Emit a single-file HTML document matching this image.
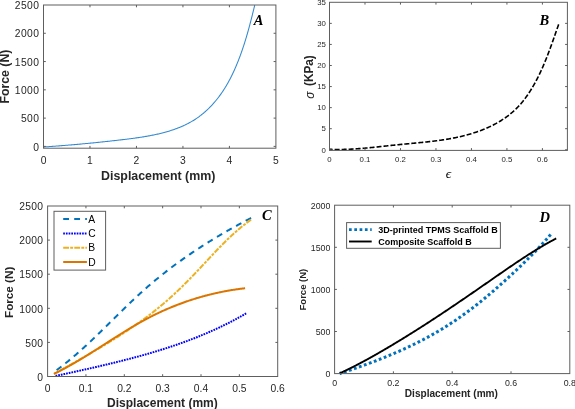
<!DOCTYPE html>
<html><head><meta charset="utf-8"><style>
html,body{margin:0;padding:0;background:#fff;}
body{width:575px;height:409px;overflow:hidden;}
svg{display:block;font-family:"Liberation Sans", sans-serif;will-change:transform;}
</style></head><body>
<svg width="575" height="409" viewBox="0 0 575 409">
<rect width="575" height="409" fill="#fff"/>
<polyline points="43.42,146.98 44.41,146.92 45.39,146.85 46.38,146.78 47.36,146.71 48.34,146.65 49.32,146.58 50.30,146.51 51.28,146.44 52.25,146.37 53.22,146.30 54.20,146.23 55.17,146.15 56.14,146.08 57.11,146.01 58.07,145.94 59.04,145.86 60.00,145.79 60.97,145.71 61.93,145.64 62.89,145.56 63.85,145.49 64.81,145.41 65.77,145.33 66.73,145.26 67.68,145.18 68.64,145.10 69.59,145.02 70.55,144.94 71.50,144.86 72.45,144.78 73.41,144.70 74.36,144.61 75.31,144.53 76.26,144.45 77.21,144.37 78.16,144.28 79.10,144.20 80.05,144.11 81.00,144.03 81.95,143.94 82.89,143.85 83.84,143.77 84.79,143.68 85.73,143.59 86.68,143.50 87.62,143.41 88.57,143.32 89.51,143.23 90.46,143.14 91.41,143.04 92.35,142.95 93.30,142.86 94.24,142.76 95.19,142.67 96.13,142.57 97.08,142.48 98.02,142.38 98.97,142.28 99.92,142.18 100.86,142.08 101.81,141.99 102.76,141.89 103.71,141.78 104.65,141.68 105.60,141.58 106.55,141.48 107.50,141.38 108.45,141.27 109.40,141.17 110.36,141.06 111.31,140.96 112.26,140.85 113.22,140.74 114.17,140.63 115.13,140.52 116.08,140.41 117.04,140.30 118.00,140.19 118.96,140.08 119.92,139.97 120.88,139.86 121.84,139.74 122.81,139.63 123.77,139.51 124.74,139.40 125.70,139.28 126.67,139.16 127.64,139.04 128.61,138.92 129.57,138.80 130.54,138.67 131.51,138.55 132.48,138.42 133.45,138.29 134.43,138.16 135.40,138.02 136.37,137.89 137.34,137.75 138.31,137.61 139.28,137.46 140.25,137.32 141.22,137.17 142.18,137.02 143.15,136.86 144.12,136.71 145.08,136.55 146.05,136.38 147.02,136.21 147.98,136.04 148.94,135.87 149.90,135.69 150.86,135.51 151.82,135.32 152.78,135.13 153.73,134.94 154.69,134.74 155.64,134.54 156.59,134.33 157.54,134.12 158.49,133.90 159.43,133.68 160.37,133.46 161.31,133.22 162.25,132.99 163.19,132.75 164.12,132.50 165.05,132.25 165.98,131.99 166.90,131.73 167.83,131.46 168.75,131.18 169.66,130.90 170.58,130.62 171.49,130.32 172.39,130.02 173.30,129.72 174.20,129.41 175.10,129.09 175.99,128.76 176.88,128.43 177.77,128.09 178.65,127.75 179.53,127.39 180.40,127.03 181.28,126.66 182.14,126.29 183.00,125.91 183.86,125.52 184.72,125.12 185.57,124.71 186.41,124.30 187.25,123.88 188.09,123.45 188.92,123.01 189.74,122.56 190.57,122.10 191.38,121.64 192.19,121.17 193.00,120.69 193.80,120.20 194.59,119.70 195.38,119.19 196.17,118.67 196.95,118.14 197.72,117.60 198.49,117.06 199.25,116.50 200.01,115.94 200.76,115.37 201.50,114.78 202.24,114.19 202.97,113.59 203.70,112.98 204.42,112.37 205.13,111.74 205.84,111.11 206.55,110.47 207.24,109.82 207.94,109.17 208.62,108.50 209.30,107.83 209.97,107.15 210.64,106.47 211.30,105.77 211.96,105.07 212.61,104.37 213.25,103.66 213.89,102.94 214.52,102.21 215.14,101.48 215.76,100.74 216.37,99.99 216.98,99.24 217.58,98.49 218.17,97.72 218.76,96.96 219.34,96.18 219.91,95.40 220.48,94.62 221.04,93.83 221.60,93.04 222.15,92.24 222.69,91.43 223.23,90.63 223.76,89.81 224.28,89.00 224.80,88.18 225.31,87.35 225.81,86.52 226.31,85.69 226.80,84.85 227.29,84.01 227.77,83.17 228.24,82.32 228.71,81.47 229.17,80.62 229.63,79.76 230.08,78.90 230.53,78.04 230.97,77.17 231.40,76.30 231.83,75.43 232.26,74.56 232.68,73.68 233.09,72.80 233.51,71.92 233.91,71.04 234.31,70.16 234.71,69.27 235.10,68.38 235.49,67.49 235.87,66.60 236.25,65.71 236.63,64.81 237.00,63.92 237.36,63.02 237.73,62.13 238.09,61.23 238.44,60.33 238.79,59.43 239.14,58.52 239.48,57.62 239.82,56.72 240.16,55.81 240.49,54.91 240.82,54.00 241.15,53.09 241.47,52.18 241.79,51.27 242.11,50.36 242.42,49.45 242.73,48.54 243.04,47.63 243.34,46.71 243.64,45.80 243.94,44.88 244.24,43.97 244.53,43.05 244.82,42.13 245.11,41.21 245.39,40.29 245.67,39.38 245.95,38.46 246.23,37.54 246.50,36.61 246.77,35.69 247.04,34.77 247.31,33.85 247.57,32.93 247.83,32.00 248.09,31.08 248.35,30.16 248.61,29.23 248.86,28.31 249.11,27.38 249.36,26.46 249.61,25.53 249.86,24.61 250.10,23.68 250.34,22.75 250.59,21.83 250.83,20.90 251.06,19.98 251.30,19.05 251.54,18.12 251.77,17.20 252.00,16.27 252.23,15.34 252.47,14.42 252.69,13.49 252.92,12.56 253.15,11.64 253.38,10.71 253.60,9.79 253.83,8.86 254.05,7.94 254.27,7.01 254.49,6.09 254.72,5.16" fill="none" stroke="#3088D0" stroke-width="1.05"/>
<rect x="43.5" y="5.0" width="232.40" height="143.20" fill="none" stroke="#5e5e5e" stroke-width="1"/>
<text x="43.50" y="163.70" font-size="10.3" text-anchor="middle" fill="#262626">0</text>
<line x1="89.98" y1="148.2" x2="89.98" y2="145.89999999999998" stroke="#5e5e5e"/>
<line x1="89.98" y1="5.0" x2="89.98" y2="7.3" stroke="#5e5e5e"/>
<text x="89.98" y="163.70" font-size="10.3" text-anchor="middle" fill="#262626">1</text>
<line x1="136.46" y1="148.2" x2="136.46" y2="145.89999999999998" stroke="#5e5e5e"/>
<line x1="136.46" y1="5.0" x2="136.46" y2="7.3" stroke="#5e5e5e"/>
<text x="136.46" y="163.70" font-size="10.3" text-anchor="middle" fill="#262626">2</text>
<line x1="182.94" y1="148.2" x2="182.94" y2="145.89999999999998" stroke="#5e5e5e"/>
<line x1="182.94" y1="5.0" x2="182.94" y2="7.3" stroke="#5e5e5e"/>
<text x="182.94" y="163.70" font-size="10.3" text-anchor="middle" fill="#262626">3</text>
<line x1="229.42" y1="148.2" x2="229.42" y2="145.89999999999998" stroke="#5e5e5e"/>
<line x1="229.42" y1="5.0" x2="229.42" y2="7.3" stroke="#5e5e5e"/>
<text x="229.42" y="163.70" font-size="10.3" text-anchor="middle" fill="#262626">4</text>
<text x="275.90" y="163.70" font-size="10.3" text-anchor="middle" fill="#262626">5</text>
<line x1="43.5" y1="146.39" x2="45.8" y2="146.39" stroke="#5e5e5e"/>
<line x1="275.9" y1="146.39" x2="273.59999999999997" y2="146.39" stroke="#5e5e5e"/>
<text transform="translate(39.30,150.55) scale(1.0,1)" font-size="10.3" text-anchor="end" fill="#262626" letter-spacing="0.4">0</text>
<line x1="43.5" y1="118.11" x2="45.8" y2="118.11" stroke="#5e5e5e"/>
<line x1="275.9" y1="118.11" x2="273.59999999999997" y2="118.11" stroke="#5e5e5e"/>
<text transform="translate(39.30,122.27) scale(1.0,1)" font-size="10.3" text-anchor="end" fill="#262626" letter-spacing="0.4">500</text>
<line x1="43.5" y1="89.83" x2="45.8" y2="89.83" stroke="#5e5e5e"/>
<line x1="275.9" y1="89.83" x2="273.59999999999997" y2="89.83" stroke="#5e5e5e"/>
<text transform="translate(39.30,93.99) scale(1.0,1)" font-size="10.3" text-anchor="end" fill="#262626" letter-spacing="0.4">1000</text>
<line x1="43.5" y1="61.56" x2="45.8" y2="61.56" stroke="#5e5e5e"/>
<line x1="275.9" y1="61.56" x2="273.59999999999997" y2="61.56" stroke="#5e5e5e"/>
<text transform="translate(39.30,65.71) scale(1.0,1)" font-size="10.3" text-anchor="end" fill="#262626" letter-spacing="0.4">1500</text>
<line x1="43.5" y1="33.28" x2="45.8" y2="33.28" stroke="#5e5e5e"/>
<line x1="275.9" y1="33.28" x2="273.59999999999997" y2="33.28" stroke="#5e5e5e"/>
<text transform="translate(39.30,37.43) scale(1.0,1)" font-size="10.3" text-anchor="end" fill="#262626" letter-spacing="0.4">2000</text>
<text transform="translate(39.30,9.16) scale(1.0,1)" font-size="10.3" text-anchor="end" fill="#262626" letter-spacing="0.4">2500</text>
<text x="158.2" y="179.8" font-size="12.4" font-weight="bold" text-anchor="middle" fill="#262626">Displacement (mm)</text>
<text transform="translate(8.6,76.6) rotate(-90)" font-size="12.3" font-weight="bold" text-anchor="middle" fill="#262626">Force (N)</text>
<text x="258.6" y="24.6" font-family='"Liberation Serif", serif' font-size="14.5" font-weight="bold" font-style="italic" text-anchor="middle" fill="#000">A</text>
<polyline points="329.51,149.33 330.50,149.37 331.49,149.40 332.48,149.43 333.46,149.45 334.45,149.47 335.43,149.49 336.41,149.49 337.40,149.50 338.38,149.50 339.36,149.50 340.33,149.49 341.31,149.47 342.29,149.46 343.26,149.44 344.24,149.41 345.21,149.39 346.18,149.36 347.16,149.32 348.13,149.28 349.10,149.24 350.07,149.20 351.04,149.15 352.01,149.10 352.98,149.04 353.94,148.99 354.91,148.93 355.88,148.86 356.84,148.80 357.81,148.73 358.77,148.66 359.74,148.59 360.70,148.51 361.66,148.43 362.63,148.35 363.59,148.27 364.55,148.19 365.51,148.10 366.48,148.02 367.44,147.93 368.40,147.84 369.36,147.74 370.32,147.65 371.28,147.56 372.24,147.46 373.20,147.36 374.17,147.26 375.13,147.17 376.09,147.06 377.05,146.96 378.01,146.86 378.97,146.76 379.93,146.66 380.89,146.55 381.85,146.45 382.81,146.34 383.77,146.24 384.73,146.14 385.70,146.03 386.66,145.93 387.62,145.82 388.58,145.72 389.54,145.61 390.51,145.51 391.47,145.41 392.44,145.30 393.40,145.20 394.36,145.10 395.33,145.00 396.30,144.90 397.26,144.80 398.23,144.71 399.20,144.61 400.17,144.52 401.13,144.42 402.10,144.33 403.07,144.23 404.04,144.14 405.01,144.05 405.98,143.96 406.95,143.87 407.92,143.78 408.90,143.69 409.87,143.60 410.84,143.50 411.81,143.41 412.78,143.32 413.75,143.23 414.73,143.14 415.70,143.05 416.67,142.95 417.64,142.86 418.62,142.76 419.59,142.67 420.56,142.57 421.53,142.48 422.51,142.38 423.48,142.28 424.45,142.18 425.42,142.07 426.39,141.97 427.36,141.86 428.33,141.76 429.30,141.65 430.27,141.54 431.24,141.42 432.21,141.31 433.18,141.19 434.15,141.07 435.12,140.95 436.08,140.83 437.05,140.70 438.02,140.57 438.98,140.44 439.95,140.31 440.91,140.17 441.87,140.03 442.84,139.88 443.80,139.74 444.76,139.59 445.72,139.43 446.68,139.28 447.64,139.12 448.60,138.96 449.55,138.79 450.51,138.62 451.46,138.44 452.42,138.26 453.37,138.08 454.32,137.89 455.27,137.70 456.22,137.51 457.17,137.31 458.12,137.10 459.07,136.90 460.01,136.68 460.95,136.46 461.90,136.24 462.84,136.01 463.78,135.78 464.72,135.54 465.65,135.30 466.59,135.05 467.52,134.80 468.46,134.54 469.39,134.27 470.32,134.00 471.24,133.72 472.17,133.44 473.10,133.15 474.02,132.86 474.94,132.56 475.86,132.25 476.78,131.94 477.69,131.62 478.61,131.30 479.52,130.96 480.43,130.63 481.34,130.28 482.24,129.93 483.14,129.57 484.04,129.21 484.94,128.84 485.83,128.46 486.72,128.07 487.61,127.68 488.49,127.28 489.37,126.88 490.24,126.47 491.12,126.05 491.98,125.62 492.85,125.19 493.71,124.75 494.56,124.30 495.42,123.84 496.26,123.38 497.10,122.91 497.94,122.43 498.77,121.95 499.60,121.46 500.42,120.96 501.24,120.45 502.05,119.93 502.86,119.41 503.66,118.88 504.46,118.34 505.25,117.79 506.03,117.24 506.81,116.68 507.58,116.10 508.34,115.53 509.10,114.94 509.85,114.34 510.60,113.74 511.33,113.13 512.07,112.51 512.79,111.88 513.51,111.24 514.22,110.60 514.92,109.94 515.61,109.28 516.30,108.61 516.98,107.93 517.65,107.24 518.32,106.54 518.97,105.84 519.62,105.13 520.26,104.41 520.90,103.68 521.52,102.94 522.14,102.20 522.76,101.45 523.36,100.69 523.96,99.93 524.55,99.16 525.14,98.38 525.71,97.60 526.29,96.81 526.85,96.02 527.41,95.22 527.96,94.42 528.51,93.61 529.05,92.80 529.58,91.98 530.11,91.16 530.63,90.34 531.15,89.51 531.66,88.67 532.16,87.84 532.66,87.00 533.15,86.15 533.64,85.31 534.12,84.46 534.60,83.61 535.07,82.75 535.54,81.90 536.00,81.04 536.46,80.17 536.91,79.31 537.36,78.44 537.80,77.57 538.24,76.70 538.67,75.82 539.10,74.95 539.52,74.07 539.94,73.18 540.36,72.30 540.77,71.42 541.18,70.53 541.59,69.64 541.99,68.75 542.38,67.86 542.78,66.96 543.16,66.07 543.55,65.17 543.93,64.27 544.31,63.37 544.69,62.47 545.06,61.57 545.43,60.66 545.80,59.76 546.16,58.85 546.52,57.95 546.88,57.04 547.24,56.13 547.59,55.22 547.94,54.31 548.29,53.40 548.63,52.49 548.98,51.58 549.32,50.67 549.66,49.75 549.99,48.84 550.33,47.93 550.66,47.02 551.00,46.10 551.33,45.19 551.66,44.28 551.98,43.37 552.31,42.46 552.63,41.54 552.96,40.63 553.28,39.72 553.60,38.81 553.92,37.90 554.24,36.99 554.56,36.08 554.88,35.17 555.19,34.27 555.51,33.36 555.83,32.46 556.14,31.55 556.46,30.65 556.77,29.75 557.09,28.85 557.40,27.95 557.72,27.05 558.03,26.15 558.35,25.26 558.67,24.37" fill="none" stroke="#000" stroke-width="1.6" stroke-dasharray="5 2" stroke-dashoffset="1.887"/>
<rect x="329.5" y="2.3" width="237.90" height="148.10" fill="none" stroke="#5e5e5e" stroke-width="1"/>
<text x="329.50" y="161.70" font-size="7.8" text-anchor="middle" fill="#262626">0</text>
<line x1="364.99" y1="150.4" x2="364.99" y2="148.1" stroke="#5e5e5e"/>
<line x1="364.99" y1="2.3" x2="364.99" y2="4.6" stroke="#5e5e5e"/>
<text x="364.99" y="161.70" font-size="7.8" text-anchor="middle" fill="#262626">0.1</text>
<line x1="400.47" y1="150.4" x2="400.47" y2="148.1" stroke="#5e5e5e"/>
<line x1="400.47" y1="2.3" x2="400.47" y2="4.6" stroke="#5e5e5e"/>
<text x="400.47" y="161.70" font-size="7.8" text-anchor="middle" fill="#262626">0.2</text>
<line x1="435.96" y1="150.4" x2="435.96" y2="148.1" stroke="#5e5e5e"/>
<line x1="435.96" y1="2.3" x2="435.96" y2="4.6" stroke="#5e5e5e"/>
<text x="435.96" y="161.70" font-size="7.8" text-anchor="middle" fill="#262626">0.3</text>
<line x1="471.44" y1="150.4" x2="471.44" y2="148.1" stroke="#5e5e5e"/>
<line x1="471.44" y1="2.3" x2="471.44" y2="4.6" stroke="#5e5e5e"/>
<text x="471.44" y="161.70" font-size="7.8" text-anchor="middle" fill="#262626">0.4</text>
<line x1="506.93" y1="150.4" x2="506.93" y2="148.1" stroke="#5e5e5e"/>
<line x1="506.93" y1="2.3" x2="506.93" y2="4.6" stroke="#5e5e5e"/>
<text x="506.93" y="161.70" font-size="7.8" text-anchor="middle" fill="#262626">0.5</text>
<line x1="542.41" y1="150.4" x2="542.41" y2="148.1" stroke="#5e5e5e"/>
<line x1="542.41" y1="2.3" x2="542.41" y2="4.6" stroke="#5e5e5e"/>
<text x="542.41" y="161.70" font-size="7.8" text-anchor="middle" fill="#262626">0.6</text>
<line x1="329.5" y1="149.77" x2="331.8" y2="149.77" stroke="#5e5e5e"/>
<line x1="567.4" y1="149.77" x2="565.1" y2="149.77" stroke="#5e5e5e"/>
<text transform="translate(325.90,152.54) scale(1.0,1)" font-size="7.8" text-anchor="end" fill="#262626">0</text>
<line x1="329.5" y1="128.70" x2="331.8" y2="128.70" stroke="#5e5e5e"/>
<line x1="567.4" y1="128.70" x2="565.1" y2="128.70" stroke="#5e5e5e"/>
<text transform="translate(325.90,131.47) scale(1.0,1)" font-size="7.8" text-anchor="end" fill="#262626">5</text>
<line x1="329.5" y1="107.63" x2="331.8" y2="107.63" stroke="#5e5e5e"/>
<line x1="567.4" y1="107.63" x2="565.1" y2="107.63" stroke="#5e5e5e"/>
<text transform="translate(325.90,110.40) scale(1.0,1)" font-size="7.8" text-anchor="end" fill="#262626">10</text>
<line x1="329.5" y1="86.57" x2="331.8" y2="86.57" stroke="#5e5e5e"/>
<line x1="567.4" y1="86.57" x2="565.1" y2="86.57" stroke="#5e5e5e"/>
<text transform="translate(325.90,89.34) scale(1.0,1)" font-size="7.8" text-anchor="end" fill="#262626">15</text>
<line x1="329.5" y1="65.50" x2="331.8" y2="65.50" stroke="#5e5e5e"/>
<line x1="567.4" y1="65.50" x2="565.1" y2="65.50" stroke="#5e5e5e"/>
<text transform="translate(325.90,68.27) scale(1.0,1)" font-size="7.8" text-anchor="end" fill="#262626">20</text>
<line x1="329.5" y1="44.43" x2="331.8" y2="44.43" stroke="#5e5e5e"/>
<line x1="567.4" y1="44.43" x2="565.1" y2="44.43" stroke="#5e5e5e"/>
<text transform="translate(325.90,47.20) scale(1.0,1)" font-size="7.8" text-anchor="end" fill="#262626">25</text>
<line x1="329.5" y1="23.37" x2="331.8" y2="23.37" stroke="#5e5e5e"/>
<line x1="567.4" y1="23.37" x2="565.1" y2="23.37" stroke="#5e5e5e"/>
<text transform="translate(325.90,26.14) scale(1.0,1)" font-size="7.8" text-anchor="end" fill="#262626">30</text>
<text transform="translate(325.90,5.07) scale(1.0,1)" font-size="7.8" text-anchor="end" fill="#262626">35</text>
<text x="448.4" y="178.4" font-family='"Liberation Serif", serif' font-size="13.5" font-style="italic" text-anchor="middle" fill="#000">&#x3F5;</text>
<text transform="translate(313.0,70.6) scale(1.15,1) rotate(-90)" font-size="11.8" font-weight="bold" text-anchor="middle" fill="#262626">(KPa)</text>
<text transform="translate(313.6,95.1) rotate(-90)" font-size="12" font-style="italic" text-anchor="middle" fill="#262626">&#x3C3;</text>
<text x="544.3" y="24.5" font-family='"Liberation Serif", serif' font-size="14.5" font-weight="bold" font-style="italic" text-anchor="middle" fill="#000">B</text>
<polyline points="53.35,372.43 54.04,371.94 54.72,371.45 55.41,370.96 56.09,370.46 56.77,369.96 57.45,369.46 58.13,368.96 58.80,368.46 59.48,367.95 60.15,367.44 60.82,366.93 61.49,366.42 62.16,365.91 62.82,365.39 63.49,364.87 64.15,364.35 64.81,363.83 65.47,363.31 66.13,362.78 66.78,362.25 67.44,361.72 68.09,361.19 68.74,360.66 69.39,360.12 70.04,359.59 70.69,359.05 71.34,358.51 71.98,357.97 72.63,357.43 73.27,356.88 73.91,356.34 74.55,355.79 75.19,355.24 75.83,354.69 76.46,354.14 77.10,353.59 77.73,353.03 78.37,352.48 79.00,351.92 79.63,351.36 80.26,350.80 80.89,350.24 81.51,349.68 82.14,349.11 82.77,348.55 83.39,347.98 84.01,347.42 84.64,346.85 85.26,346.28 85.88,345.71 86.50,345.14 87.12,344.56 87.74,343.99 88.36,343.42 88.97,342.84 89.59,342.26 90.20,341.69 90.82,341.11 91.43,340.53 92.05,339.95 92.66,339.37 93.27,338.79 93.88,338.21 94.49,337.62 95.10,337.04 95.71,336.46 96.32,335.87 96.93,335.29 97.54,334.70 98.14,334.11 98.75,333.53 99.36,332.94 99.96,332.35 100.57,331.76 101.17,331.17 101.78,330.58 102.38,329.99 102.99,329.40 103.59,328.81 104.19,328.22 104.80,327.63 105.40,327.04 106.00,326.44 106.61,325.85 107.21,325.26 107.81,324.67 108.41,324.07 109.01,323.48 109.62,322.89 110.22,322.29 110.82,321.70 111.42,321.11 112.02,320.51 112.62,319.92 113.22,319.33 113.83,318.73 114.43,318.14 115.03,317.55 115.63,316.95 116.23,316.36 116.83,315.77 117.44,315.18 118.04,314.58 118.64,313.99 119.24,313.40 119.85,312.81 120.45,312.22 121.05,311.63 121.66,311.03 122.26,310.44 122.86,309.85 123.47,309.26 124.07,308.68 124.68,308.09 125.28,307.50 125.89,306.91 126.50,306.33 127.10,305.74 127.71,305.15 128.32,304.57 128.93,303.98 129.54,303.40 130.15,302.82 130.76,302.23 131.37,301.65 131.98,301.07 132.59,300.49 133.21,299.91 133.82,299.33 134.43,298.76 135.05,298.18 135.66,297.60 136.28,297.03 136.90,296.46 137.51,295.88 138.13,295.31 138.75,294.74 139.37,294.17 139.99,293.60 140.62,293.03 141.24,292.47 141.86,291.90 142.49,291.34 143.12,290.78 143.74,290.21 144.37,289.65 145.00,289.10 145.63,288.54 146.26,287.98 146.89,287.43 147.53,286.87 148.16,286.32 148.80,285.77 149.43,285.22 150.07,284.67 150.71,284.12 151.35,283.58 151.99,283.03 152.63,282.49 153.28,281.95 153.92,281.41 154.56,280.87 155.21,280.33 155.86,279.79 156.51,279.26 157.16,278.72 157.81,278.19 158.46,277.66 159.11,277.13 159.76,276.60 160.42,276.07 161.07,275.55 161.73,275.02 162.39,274.50 163.04,273.98 163.70,273.45 164.36,272.93 165.02,272.42 165.69,271.90 166.35,271.38 167.01,270.87 167.68,270.35 168.34,269.84 169.01,269.33 169.68,268.82 170.35,268.31 171.02,267.80 171.69,267.30 172.36,266.79 173.03,266.29 173.71,265.78 174.38,265.28 175.06,264.78 175.73,264.28 176.41,263.79 177.09,263.29 177.77,262.79 178.45,262.30 179.13,261.81 179.81,261.31 180.49,260.82 181.18,260.33 181.86,259.84 182.54,259.36 183.23,258.87 183.92,258.39 184.61,257.90 185.29,257.42 185.98,256.94 186.67,256.46 187.37,255.98 188.06,255.50 188.75,255.02 189.44,254.55 190.14,254.07 190.83,253.60 191.53,253.13 192.23,252.66 192.93,252.19 193.62,251.72 194.32,251.25 195.02,250.79 195.73,250.32 196.43,249.86 197.13,249.39 197.83,248.93 198.54,248.47 199.24,248.01 199.95,247.55 200.66,247.09 201.36,246.64 202.07,246.18 202.78,245.73 203.49,245.27 204.20,244.82 204.91,244.37 205.62,243.92 206.34,243.47 207.05,243.02 207.76,242.58 208.48,242.13 209.19,241.68 209.91,241.24 210.63,240.80 211.34,240.36 212.06,239.92 212.78,239.48 213.50,239.04 214.22,238.60 214.94,238.16 215.67,237.73 216.39,237.29 217.11,236.86 217.84,236.43 218.56,236.00 219.29,235.57 220.01,235.14 220.74,234.71 221.47,234.28 222.19,233.86 222.92,233.43 223.65,233.01 224.38,232.58 225.11,232.16 225.84,231.74 226.58,231.32 227.31,230.90 228.04,230.48 228.78,230.07 229.51,229.65 230.25,229.23 230.98,228.82 231.72,228.41 232.45,227.99 233.19,227.58 233.93,227.17 234.67,226.76 235.41,226.35 236.15,225.95 236.89,225.54 237.63,225.13 238.37,224.73 239.11,224.33 239.86,223.92 240.60,223.52 241.34,223.12 242.09,222.72 242.83,222.32 243.58,221.92 244.32,221.52 245.07,221.13 245.82,220.73 246.56,220.34 247.31,219.94 248.06,219.55 248.81,219.16 249.56,218.77 250.31,218.38 251.06,217.99" fill="none" stroke="#0072BD" stroke-width="2" stroke-dasharray="6 5" stroke-dashoffset="6.988"/>
<polyline points="54.90,376.10 55.56,375.96 56.21,375.82 56.87,375.67 57.53,375.53 58.18,375.39 58.84,375.24 59.50,375.10 60.16,374.96 60.81,374.82 61.47,374.67 62.13,374.53 62.79,374.38 63.44,374.24 64.10,374.10 64.76,373.95 65.42,373.81 66.08,373.67 66.73,373.52 67.39,373.38 68.05,373.24 68.71,373.09 69.37,372.95 70.03,372.80 70.68,372.66 71.34,372.51 72.00,372.37 72.66,372.23 73.32,372.08 73.98,371.94 74.64,371.79 75.30,371.65 75.96,371.50 76.62,371.36 77.27,371.21 77.93,371.06 78.59,370.92 79.25,370.77 79.91,370.63 80.57,370.48 81.23,370.33 81.89,370.19 82.55,370.04 83.21,369.89 83.87,369.75 84.53,369.60 85.19,369.45 85.85,369.30 86.51,369.15 87.17,369.01 87.83,368.86 88.49,368.71 89.15,368.56 89.81,368.41 90.47,368.26 91.13,368.11 91.79,367.96 92.44,367.81 93.10,367.66 93.76,367.51 94.42,367.36 95.08,367.21 95.74,367.06 96.40,366.91 97.06,366.75 97.72,366.60 98.38,366.45 99.04,366.30 99.70,366.14 100.36,365.99 101.02,365.84 101.68,365.68 102.34,365.53 103.00,365.37 103.65,365.22 104.31,365.06 104.97,364.91 105.63,364.75 106.29,364.60 106.95,364.44 107.61,364.28 108.27,364.13 108.93,363.97 109.58,363.81 110.24,363.65 110.90,363.49 111.56,363.33 112.22,363.17 112.88,363.01 113.53,362.85 114.19,362.69 114.85,362.53 115.51,362.37 116.17,362.21 116.82,362.05 117.48,361.88 118.14,361.72 118.80,361.56 119.45,361.39 120.11,361.23 120.77,361.06 121.42,360.90 122.08,360.73 122.74,360.56 123.39,360.40 124.05,360.23 124.71,360.06 125.36,359.89 126.02,359.73 126.68,359.56 127.33,359.39 127.99,359.22 128.64,359.05 129.30,358.87 129.95,358.70 130.61,358.53 131.26,358.36 131.92,358.19 132.57,358.01 133.23,357.84 133.88,357.66 134.54,357.49 135.19,357.31 135.84,357.13 136.50,356.96 137.15,356.78 137.80,356.60 138.46,356.42 139.11,356.24 139.76,356.06 140.42,355.88 141.07,355.70 141.72,355.52 142.37,355.34 143.02,355.16 143.68,354.97 144.33,354.79 144.98,354.60 145.63,354.42 146.28,354.23 146.93,354.05 147.58,353.86 148.23,353.67 148.88,353.48 149.53,353.30 150.18,353.11 150.83,352.92 151.48,352.72 152.13,352.53 152.78,352.34 153.43,352.15 154.08,351.95 154.72,351.76 155.37,351.57 156.02,351.37 156.67,351.17 157.31,350.98 157.96,350.78 158.61,350.58 159.25,350.38 159.90,350.18 160.54,349.98 161.19,349.78 161.84,349.58 162.48,349.37 163.13,349.17 163.77,348.97 164.41,348.76 165.06,348.56 165.70,348.35 166.35,348.14 166.99,347.93 167.63,347.73 168.27,347.52 168.92,347.31 169.56,347.09 170.20,346.88 170.84,346.67 171.48,346.46 172.12,346.24 172.76,346.03 173.40,345.81 174.04,345.59 174.68,345.38 175.32,345.16 175.96,344.94 176.60,344.72 177.24,344.50 177.88,344.28 178.52,344.05 179.15,343.83 179.79,343.61 180.43,343.38 181.06,343.16 181.70,342.93 182.34,342.70 182.97,342.47 183.61,342.24 184.24,342.01 184.88,341.78 185.51,341.55 186.14,341.32 186.78,341.08 187.41,340.85 188.04,340.61 188.67,340.38 189.31,340.14 189.94,339.90 190.57,339.66 191.20,339.42 191.83,339.18 192.46,338.94 193.09,338.69 193.72,338.45 194.35,338.20 194.98,337.96 195.61,337.71 196.23,337.46 196.86,337.21 197.49,336.96 198.12,336.71 198.74,336.46 199.37,336.21 199.99,335.95 200.62,335.70 201.24,335.44 201.87,335.18 202.49,334.93 203.11,334.67 203.74,334.41 204.36,334.15 204.98,333.88 205.60,333.62 206.23,333.36 206.85,333.09 207.47,332.82 208.09,332.56 208.71,332.29 209.33,332.02 209.94,331.75 210.56,331.48 211.18,331.20 211.80,330.93 212.42,330.65 213.03,330.38 213.65,330.10 214.26,329.82 214.88,329.54 215.49,329.26 216.11,328.98 216.72,328.70 217.33,328.41 217.95,328.13 218.56,327.84 219.17,327.56 219.78,327.27 220.39,326.98 221.00,326.69 221.61,326.40 222.22,326.10 222.83,325.81 223.44,325.51 224.05,325.22 224.66,324.92 225.26,324.62 225.87,324.32 226.48,324.02 227.08,323.72 227.69,323.41 228.29,323.11 228.90,322.80 229.50,322.49 230.10,322.18 230.70,321.87 231.31,321.56 231.91,321.25 232.51,320.94 233.11,320.62 233.71,320.31 234.31,319.99 234.91,319.67 235.51,319.35 236.10,319.03 236.70,318.71 237.30,318.38 237.89,318.06 238.49,317.73 239.08,317.40 239.68,317.08 240.27,316.75 240.86,316.41 241.46,316.08 242.05,315.75 242.64,315.41 243.23,315.08 243.82,314.74 244.41,314.40 245.00,314.06 245.59,313.72 246.18,313.37" fill="none" stroke="#0000FF" stroke-width="2" stroke-dasharray="1.7 1.0" stroke-dashoffset="2.002"/>
<polyline points="54.03,373.98 54.76,373.57 55.48,373.16 56.21,372.75 56.94,372.34 57.67,371.93 58.40,371.52 59.12,371.11 59.85,370.70 60.58,370.29 61.31,369.88 62.04,369.47 62.77,369.06 63.50,368.65 64.24,368.24 64.97,367.83 65.70,367.41 66.43,367.00 67.16,366.59 67.89,366.18 68.62,365.77 69.36,365.35 70.09,364.94 70.82,364.53 71.55,364.11 72.29,363.70 73.02,363.29 73.75,362.87 74.49,362.46 75.22,362.04 75.95,361.63 76.68,361.21 77.42,360.80 78.15,360.38 78.88,359.96 79.62,359.55 80.35,359.13 81.08,358.71 81.81,358.29 82.55,357.87 83.28,357.45 84.01,357.03 84.74,356.61 85.48,356.19 86.21,355.77 86.94,355.35 87.67,354.93 88.40,354.51 89.13,354.08 89.87,353.66 90.60,353.23 91.33,352.81 92.06,352.38 92.79,351.96 93.52,351.53 94.25,351.10 94.98,350.68 95.71,350.25 96.44,349.82 97.16,349.39 97.89,348.96 98.62,348.53 99.35,348.09 100.07,347.66 100.80,347.23 101.53,346.79 102.25,346.36 102.98,345.92 103.70,345.49 104.43,345.05 105.15,344.61 105.88,344.17 106.60,343.73 107.32,343.29 108.05,342.85 108.77,342.41 109.49,341.97 110.21,341.52 110.93,341.08 111.65,340.63 112.37,340.19 113.09,339.74 113.80,339.29 114.52,338.84 115.24,338.39 115.95,337.94 116.67,337.49 117.38,337.04 118.10,336.58 118.81,336.13 119.52,335.67 120.24,335.22 120.95,334.76 121.66,334.30 122.37,333.84 123.08,333.38 123.78,332.92 124.49,332.45 125.20,331.99 125.90,331.52 126.61,331.06 127.31,330.59 128.02,330.12 128.72,329.65 129.42,329.18 130.12,328.71 130.82,328.24 131.52,327.76 132.22,327.29 132.91,326.81 133.61,326.33 134.31,325.85 135.00,325.37 135.69,324.89 136.39,324.41 137.08,323.92 137.77,323.44 138.46,322.95 139.14,322.46 139.83,321.97 140.52,321.48 141.20,320.99 141.89,320.50 142.57,320.00 143.25,319.51 143.93,319.01 144.61,318.51 145.29,318.01 145.97,317.51 146.64,317.01 147.32,316.50 147.99,316.00 148.66,315.49 149.33,314.98 150.00,314.47 150.67,313.96 151.34,313.45 152.01,312.93 152.67,312.42 153.34,311.90 154.00,311.38 154.66,310.86 155.32,310.34 155.98,309.81 156.63,309.29 157.29,308.76 157.94,308.23 158.60,307.70 159.25,307.17 159.90,306.63 160.55,306.10 161.19,305.56 161.84,305.02 162.48,304.48 163.13,303.94 163.77,303.40 164.41,302.85 165.04,302.31 165.68,301.76 166.32,301.21 166.95,300.65 167.58,300.10 168.21,299.55 168.84,298.99 169.47,298.43 170.10,297.87 170.72,297.31 171.34,296.74 171.97,296.18 172.59,295.61 173.21,295.04 173.82,294.47 174.44,293.90 175.06,293.33 175.67,292.75 176.28,292.18 176.89,291.60 177.50,291.02 178.11,290.44 178.72,289.86 179.33,289.28 179.93,288.69 180.54,288.11 181.14,287.52 181.74,286.93 182.34,286.35 182.94,285.76 183.54,285.17 184.14,284.57 184.74,283.98 185.33,283.39 185.93,282.79 186.52,282.19 187.11,281.60 187.70,281.00 188.29,280.40 188.89,279.80 189.47,279.20 190.06,278.59 190.65,277.99 191.24,277.39 191.82,276.78 192.41,276.17 192.99,275.57 193.58,274.96 194.16,274.35 194.74,273.74 195.32,273.13 195.90,272.52 196.48,271.91 197.06,271.30 197.64,270.69 198.22,270.08 198.80,269.46 199.37,268.85 199.95,268.23 200.53,267.62 201.10,267.00 201.68,266.39 202.25,265.77 202.83,265.16 203.40,264.54 203.98,263.92 204.55,263.31 205.13,262.69 205.70,262.07 206.27,261.46 206.85,260.84 207.42,260.22 208.00,259.61 208.57,258.99 209.14,258.37 209.72,257.76 210.29,257.14 210.87,256.53 211.44,255.91 212.02,255.30 212.60,254.69 213.17,254.07 213.75,253.46 214.33,252.85 214.91,252.24 215.49,251.63 216.07,251.02 216.65,250.41 217.23,249.80 217.81,249.20 218.40,248.59 218.98,247.99 219.57,247.38 220.15,246.78 220.74,246.18 221.33,245.58 221.92,244.98 222.51,244.39 223.10,243.79 223.69,243.20 224.29,242.60 224.88,242.01 225.48,241.42 226.08,240.83 226.68,240.25 227.28,239.66 227.88,239.08 228.49,238.50 229.10,237.92 229.70,237.34 230.31,236.77 230.93,236.19 231.54,235.62 232.15,235.05 232.77,234.49 233.39,233.92 234.01,233.36 234.64,232.80 235.26,232.24 235.89,231.69 236.52,231.13 237.15,230.58 237.79,230.04 238.42,229.49 239.06,228.95 239.71,228.41 240.35,227.87 241.00,227.34 241.65,226.81 242.30,226.28 242.95,225.75 243.61,225.23 244.27,224.71 244.94,224.20 245.60,223.68 246.27,223.17 246.94,222.67 247.62,222.16 248.30,221.67 248.98,221.17 249.66,220.68 250.35,220.19 251.04,219.70" fill="none" stroke="#EDB120" stroke-width="2" stroke-dasharray="5.5 1.3 2.8 1.3" stroke-dashoffset="4.416"/>
<polyline points="53.93,373.83 54.56,373.52 55.20,373.22 55.83,372.91 56.46,372.60 57.10,372.29 57.73,371.98 58.36,371.66 58.99,371.34 59.61,371.03 60.24,370.70 60.87,370.38 61.50,370.06 62.12,369.73 62.75,369.41 63.37,369.08 63.99,368.75 64.61,368.42 65.24,368.08 65.86,367.75 66.48,367.41 67.10,367.08 67.71,366.74 68.33,366.40 68.95,366.05 69.57,365.71 70.18,365.37 70.80,365.02 71.41,364.67 72.03,364.33 72.64,363.98 73.25,363.63 73.87,363.27 74.48,362.92 75.09,362.57 75.70,362.21 76.31,361.85 76.92,361.50 77.53,361.14 78.14,360.78 78.74,360.42 79.35,360.06 79.96,359.69 80.57,359.33 81.17,358.97 81.78,358.60 82.38,358.23 82.99,357.87 83.59,357.50 84.20,357.13 84.80,356.76 85.40,356.39 86.01,356.02 86.61,355.65 87.21,355.27 87.81,354.90 88.42,354.53 89.02,354.15 89.62,353.78 90.22,353.40 90.82,353.02 91.42,352.65 92.02,352.27 92.62,351.89 93.22,351.51 93.82,351.13 94.42,350.75 95.02,350.37 95.62,349.99 96.21,349.61 96.81,349.23 97.41,348.85 98.01,348.47 98.61,348.09 99.20,347.71 99.80,347.32 100.40,346.94 101.00,346.56 101.60,346.18 102.19,345.79 102.79,345.41 103.39,345.03 103.98,344.64 104.58,344.26 105.18,343.88 105.78,343.49 106.37,343.11 106.97,342.73 107.57,342.34 108.17,341.96 108.76,341.58 109.36,341.20 109.96,340.81 110.56,340.43 111.15,340.05 111.75,339.67 112.35,339.28 112.95,338.90 113.54,338.52 114.14,338.14 114.74,337.76 115.34,337.38 115.94,337.00 116.54,336.62 117.14,336.24 117.74,335.86 118.34,335.49 118.94,335.11 119.54,334.73 120.14,334.35 120.74,333.98 121.34,333.60 121.94,333.23 122.54,332.85 123.14,332.48 123.75,332.11 124.35,331.74 124.95,331.36 125.56,330.99 126.16,330.62 126.76,330.25 127.37,329.89 127.97,329.52 128.58,329.15 129.18,328.79 129.79,328.42 130.40,328.06 131.00,327.70 131.61,327.33 132.22,326.97 132.83,326.61 133.44,326.25 134.05,325.90 134.66,325.54 135.27,325.18 135.88,324.83 136.49,324.48 137.10,324.12 137.71,323.77 138.33,323.42 138.94,323.07 139.56,322.73 140.17,322.38 140.79,322.04 141.40,321.69 142.02,321.35 142.64,321.01 143.26,320.67 143.88,320.33 144.50,320.00 145.12,319.66 145.74,319.33 146.36,319.00 146.98,318.67 147.61,318.34 148.23,318.01 148.86,317.68 149.48,317.36 150.11,317.04 150.74,316.72 151.36,316.40 151.99,316.08 152.62,315.76 153.25,315.45 153.88,315.14 154.52,314.83 155.15,314.52 155.78,314.21 156.42,313.90 157.05,313.60 157.69,313.29 158.32,312.99 158.96,312.69 159.60,312.39 160.23,312.09 160.87,311.80 161.51,311.51 162.15,311.21 162.80,310.92 163.44,310.63 164.08,310.35 164.72,310.06 165.37,309.78 166.01,309.49 166.66,309.21 167.30,308.93 167.95,308.66 168.60,308.38 169.25,308.11 169.90,307.83 170.55,307.56 171.20,307.29 171.85,307.03 172.50,306.76 173.15,306.50 173.80,306.23 174.46,305.97 175.11,305.71 175.77,305.45 176.42,305.20 177.08,304.94 177.74,304.69 178.39,304.44 179.05,304.19 179.71,303.94 180.37,303.70 181.03,303.45 181.69,303.21 182.36,302.97 183.02,302.73 183.68,302.49 184.35,302.25 185.01,302.02 185.67,301.79 186.34,301.55 187.01,301.32 187.67,301.10 188.34,300.87 189.01,300.65 189.68,300.42 190.35,300.20 191.02,299.98 191.69,299.77 192.36,299.55 193.03,299.33 193.71,299.12 194.38,298.91 195.05,298.70 195.73,298.49 196.40,298.29 197.08,298.08 197.76,297.88 198.43,297.68 199.11,297.48 199.79,297.29 200.47,297.09 201.15,296.90 201.83,296.70 202.51,296.51 203.19,296.33 203.87,296.14 204.55,295.95 205.24,295.77 205.92,295.59 206.61,295.41 207.29,295.23 207.98,295.05 208.66,294.88 209.35,294.71 210.04,294.53 210.72,294.36 211.41,294.20 212.10,294.03 212.79,293.87 213.48,293.70 214.17,293.54 214.86,293.38 215.55,293.23 216.25,293.07 216.94,292.92 217.63,292.77 218.33,292.62 219.02,292.47 219.72,292.32 220.41,292.18 221.11,292.03 221.81,291.89 222.50,291.75 223.20,291.61 223.90,291.48 224.60,291.34 225.30,291.21 226.00,291.08 226.70,290.95 227.40,290.83 228.10,290.70 228.81,290.58 229.51,290.45 230.21,290.34 230.92,290.22 231.62,290.10 232.33,289.99 233.03,289.87 233.74,289.76 234.44,289.65 235.15,289.55 235.86,289.44 236.57,289.34 237.27,289.24 237.98,289.14 238.69,289.04 239.40,288.94 240.11,288.85 240.82,288.75 241.54,288.66 242.25,288.57 242.96,288.49 243.67,288.40 244.39,288.32 245.10,288.24" fill="none" stroke="#DB7500" stroke-width="2"/>
<rect x="47.6" y="206.0" width="230.10" height="170.50" fill="none" stroke="#5e5e5e" stroke-width="1"/>
<text x="47.60" y="392.00" font-size="10.3" text-anchor="middle" fill="#262626">0</text>
<line x1="85.95" y1="376.5" x2="85.95" y2="374.2" stroke="#5e5e5e"/>
<line x1="85.95" y1="206.0" x2="85.95" y2="208.3" stroke="#5e5e5e"/>
<text x="85.95" y="392.00" font-size="10.3" text-anchor="middle" fill="#262626">0.1</text>
<line x1="124.30" y1="376.5" x2="124.30" y2="374.2" stroke="#5e5e5e"/>
<line x1="124.30" y1="206.0" x2="124.30" y2="208.3" stroke="#5e5e5e"/>
<text x="124.30" y="392.00" font-size="10.3" text-anchor="middle" fill="#262626">0.2</text>
<line x1="162.65" y1="376.5" x2="162.65" y2="374.2" stroke="#5e5e5e"/>
<line x1="162.65" y1="206.0" x2="162.65" y2="208.3" stroke="#5e5e5e"/>
<text x="162.65" y="392.00" font-size="10.3" text-anchor="middle" fill="#262626">0.3</text>
<line x1="201.00" y1="376.5" x2="201.00" y2="374.2" stroke="#5e5e5e"/>
<line x1="201.00" y1="206.0" x2="201.00" y2="208.3" stroke="#5e5e5e"/>
<text x="201.00" y="392.00" font-size="10.3" text-anchor="middle" fill="#262626">0.4</text>
<line x1="239.35" y1="376.5" x2="239.35" y2="374.2" stroke="#5e5e5e"/>
<line x1="239.35" y1="206.0" x2="239.35" y2="208.3" stroke="#5e5e5e"/>
<text x="239.35" y="392.00" font-size="10.3" text-anchor="middle" fill="#262626">0.5</text>
<text x="277.70" y="392.00" font-size="10.3" text-anchor="middle" fill="#262626">0.6</text>
<text transform="translate(43.45,380.76) scale(1.0,1)" font-size="10.3" text-anchor="end" fill="#262626" letter-spacing="0.35">0</text>
<line x1="47.6" y1="342.40" x2="49.9" y2="342.40" stroke="#5e5e5e"/>
<line x1="277.7" y1="342.40" x2="275.4" y2="342.40" stroke="#5e5e5e"/>
<text transform="translate(43.45,346.66) scale(1.0,1)" font-size="10.3" text-anchor="end" fill="#262626" letter-spacing="0.35">500</text>
<line x1="47.6" y1="308.30" x2="49.9" y2="308.30" stroke="#5e5e5e"/>
<line x1="277.7" y1="308.30" x2="275.4" y2="308.30" stroke="#5e5e5e"/>
<text transform="translate(43.45,312.56) scale(1.0,1)" font-size="10.3" text-anchor="end" fill="#262626" letter-spacing="0.35">1000</text>
<line x1="47.6" y1="274.20" x2="49.9" y2="274.20" stroke="#5e5e5e"/>
<line x1="277.7" y1="274.20" x2="275.4" y2="274.20" stroke="#5e5e5e"/>
<text transform="translate(43.45,278.46) scale(1.0,1)" font-size="10.3" text-anchor="end" fill="#262626" letter-spacing="0.35">1500</text>
<line x1="47.6" y1="240.10" x2="49.9" y2="240.10" stroke="#5e5e5e"/>
<line x1="277.7" y1="240.10" x2="275.4" y2="240.10" stroke="#5e5e5e"/>
<text transform="translate(43.45,244.36) scale(1.0,1)" font-size="10.3" text-anchor="end" fill="#262626" letter-spacing="0.35">2000</text>
<text transform="translate(43.45,210.26) scale(1.0,1)" font-size="10.3" text-anchor="end" fill="#262626" letter-spacing="0.35">2500</text>
<text x="162.4" y="406.8" font-size="12" font-weight="bold" text-anchor="middle" fill="#262626">Displacement (mm)</text>
<text transform="translate(12.8,292.3) rotate(-90)" font-size="11.7" font-weight="bold" text-anchor="middle" fill="#262626">Force (N)</text>
<text x="266.8" y="219.5" font-family='"Liberation Serif", serif' font-size="14.5" font-weight="bold" font-style="italic" text-anchor="middle" fill="#000">C</text>
<rect x="54" y="211.3" width="51.6" height="58.8" fill="#fff" stroke="#5e5e5e" stroke-width="1"/>
<line x1="63.2" y1="219" x2="86.9" y2="219" stroke="#0072BD" stroke-width="2" stroke-dasharray="5.8 5.2"/>
<text x="88.3" y="222.65" font-size="10.3" fill="#000">A</text>
<line x1="63.2" y1="233.5" x2="86.9" y2="233.5" stroke="#0000FF" stroke-width="2" stroke-dasharray="1.7 1.0"/>
<text x="88.3" y="237.15" font-size="10.3" fill="#000">C</text>
<line x1="63.2" y1="247.8" x2="86.9" y2="247.8" stroke="#EDB120" stroke-width="2" stroke-dasharray="5.8 1.2 2.9 1.2"/>
<text x="88.3" y="251.45000000000002" font-size="10.3" fill="#000">B</text>
<line x1="63.2" y1="262" x2="86.9" y2="262" stroke="#DB7500" stroke-width="2" stroke-dasharray="none"/>
<text x="88.3" y="265.65" font-size="10.3" fill="#000">D</text>
<polyline points="339.62,373.52 340.43,373.26 341.24,372.99 342.06,372.73 342.87,372.46 343.68,372.20 344.49,371.93 345.31,371.66 346.12,371.40 346.93,371.13 347.74,370.86 348.55,370.59 349.37,370.31 350.18,370.04 350.99,369.77 351.80,369.49 352.61,369.22 353.42,368.94 354.23,368.66 355.04,368.38 355.85,368.10 356.66,367.82 357.47,367.54 358.28,367.26 359.09,366.97 359.90,366.69 360.71,366.40 361.51,366.11 362.32,365.83 363.13,365.54 363.94,365.25 364.74,364.95 365.55,364.66 366.36,364.37 367.16,364.07 367.97,363.78 368.77,363.48 369.58,363.18 370.38,362.88 371.19,362.58 371.99,362.28 372.80,361.98 373.60,361.67 374.40,361.37 375.20,361.06 376.00,360.75 376.81,360.44 377.61,360.13 378.41,359.82 379.21,359.51 380.01,359.19 380.80,358.88 381.60,358.56 382.40,358.24 383.20,357.92 383.99,357.60 384.79,357.28 385.59,356.96 386.38,356.63 387.18,356.31 387.97,355.98 388.76,355.65 389.56,355.32 390.35,354.99 391.14,354.66 391.93,354.32 392.72,353.99 393.51,353.65 394.30,353.31 395.09,352.97 395.88,352.63 396.66,352.29 397.45,351.95 398.24,351.60 399.02,351.26 399.80,350.91 400.59,350.56 401.37,350.21 402.15,349.85 402.94,349.50 403.72,349.14 404.50,348.79 405.28,348.43 406.05,348.07 406.83,347.70 407.61,347.34 408.38,346.98 409.16,346.61 409.93,346.24 410.71,345.87 411.48,345.50 412.25,345.13 413.02,344.75 413.79,344.38 414.56,344.00 415.33,343.62 416.10,343.24 416.87,342.86 417.63,342.47 418.40,342.09 419.16,341.70 419.93,341.31 420.69,340.92 421.45,340.53 422.21,340.13 422.97,339.73 423.73,339.34 424.48,338.94 425.24,338.54 426.00,338.13 426.75,337.73 427.50,337.32 428.26,336.91 429.01,336.50 429.76,336.09 430.51,335.68 431.26,335.26 432.00,334.84 432.75,334.42 433.49,334.00 434.24,333.58 434.98,333.15 435.72,332.73 436.46,332.30 437.20,331.87 437.94,331.44 438.68,331.00 439.42,330.57 440.15,330.13 440.88,329.69 441.62,329.25 442.35,328.80 443.08,328.36 443.81,327.91 444.54,327.46 445.26,327.01 445.99,326.55 446.71,326.10 447.44,325.64 448.16,325.18 448.88,324.72 449.60,324.26 450.31,323.79 451.03,323.32 451.75,322.85 452.46,322.38 453.17,321.91 453.89,321.43 454.60,320.96 455.30,320.48 456.01,320.00 456.72,319.51 457.43,319.03 458.13,318.54 458.83,318.05 459.53,317.56 460.24,317.07 460.94,316.58 461.63,316.08 462.33,315.58 463.03,315.08 463.72,314.58 464.42,314.08 465.11,313.57 465.80,313.07 466.49,312.56 467.18,312.05 467.87,311.54 468.56,311.03 469.24,310.51 469.93,310.00 470.61,309.48 471.29,308.96 471.98,308.44 472.66,307.92 473.34,307.39 474.01,306.87 474.69,306.34 475.37,305.81 476.04,305.29 476.72,304.75 477.39,304.22 478.06,303.69 478.74,303.15 479.41,302.62 480.08,302.08 480.74,301.54 481.41,301.00 482.08,300.46 482.74,299.91 483.41,299.37 484.07,298.82 484.74,298.28 485.40,297.73 486.06,297.18 486.72,296.63 487.38,296.08 488.04,295.52 488.69,294.97 489.35,294.41 490.01,293.86 490.66,293.30 491.31,292.74 491.97,292.18 492.62,291.62 493.27,291.06 493.92,290.50 494.57,289.93 495.22,289.37 495.87,288.80 496.51,288.23 497.16,287.67 497.81,287.10 498.45,286.53 499.09,285.96 499.74,285.39 500.38,284.81 501.02,284.24 501.66,283.67 502.30,283.09 502.94,282.52 503.58,281.94 504.22,281.36 504.85,280.78 505.49,280.20 506.13,279.63 506.76,279.04 507.39,278.46 508.03,277.88 508.66,277.30 509.29,276.72 509.92,276.13 510.56,275.55 511.19,274.96 511.82,274.38 512.44,273.79 513.07,273.20 513.70,272.62 514.33,272.03 514.95,271.44 515.58,270.85 516.20,270.26 516.83,269.67 517.45,269.08 518.07,268.49 518.69,267.90 519.32,267.30 519.94,266.71 520.55,266.11 521.17,265.52 521.79,264.92 522.41,264.33 523.02,263.73 523.64,263.13 524.25,262.53 524.87,261.93 525.48,261.33 526.09,260.73 526.70,260.13 527.31,259.52 527.92,258.92 528.52,258.31 529.13,257.71 529.73,257.10 530.34,256.49 530.94,255.88 531.54,255.27 532.14,254.66 532.74,254.05 533.34,253.44 533.94,252.82 534.53,252.21 535.13,251.59 535.72,250.98 536.31,250.36 536.90,249.74 537.49,249.12 538.08,248.50 538.67,247.87 539.25,247.25 539.84,246.63 540.42,246.00 541.00,245.37 541.58,244.74 542.16,244.11 542.74,243.48 543.31,242.85 543.89,242.22 544.46,241.58 545.03,240.95 545.60,240.31 546.17,239.67 546.74,239.03 547.30,238.39 547.87,237.75 548.43,237.11 548.99,236.46 549.55,235.81 550.11,235.17 550.66,234.52" fill="none" stroke="#0072BD" stroke-width="3" stroke-dasharray="2.8 2.5" stroke-dashoffset="0.805"/>
<polyline points="339.71,373.41 340.48,373.05 341.26,372.68 342.03,372.32 342.80,371.95 343.57,371.58 344.34,371.21 345.11,370.84 345.87,370.47 346.64,370.09 347.41,369.72 348.17,369.34 348.94,368.96 349.70,368.58 350.46,368.20 351.22,367.82 351.99,367.43 352.75,367.04 353.51,366.66 354.27,366.27 355.03,365.88 355.78,365.49 356.54,365.09 357.30,364.70 358.05,364.31 358.81,363.91 359.56,363.51 360.32,363.11 361.07,362.71 361.82,362.31 362.57,361.91 363.33,361.50 364.08,361.10 364.83,360.69 365.58,360.29 366.33,359.88 367.07,359.47 367.82,359.06 368.57,358.65 369.32,358.23 370.06,357.82 370.81,357.41 371.55,356.99 372.30,356.57 373.04,356.16 373.79,355.74 374.53,355.32 375.27,354.90 376.01,354.48 376.75,354.06 377.50,353.63 378.24,353.21 378.98,352.78 379.72,352.36 380.46,351.93 381.19,351.51 381.93,351.08 382.67,350.65 383.41,350.22 384.15,349.79 384.88,349.36 385.62,348.93 386.35,348.49 387.09,348.06 387.82,347.63 388.56,347.19 389.29,346.76 390.03,346.32 390.76,345.88 391.50,345.45 392.23,345.01 392.96,344.57 393.69,344.13 394.43,343.69 395.16,343.25 395.89,342.81 396.62,342.37 397.35,341.93 398.08,341.48 398.81,341.04 399.54,340.60 400.27,340.15 401.00,339.71 401.73,339.26 402.46,338.82 403.18,338.37 403.91,337.92 404.64,337.48 405.37,337.03 406.09,336.58 406.82,336.13 407.55,335.68 408.27,335.23 409.00,334.78 409.72,334.32 410.45,333.87 411.17,333.42 411.90,332.97 412.62,332.51 413.34,332.06 414.07,331.60 414.79,331.15 415.51,330.69 416.23,330.24 416.96,329.78 417.68,329.32 418.40,328.86 419.12,328.41 419.84,327.95 420.56,327.49 421.28,327.03 422.00,326.57 422.72,326.11 423.44,325.64 424.16,325.18 424.88,324.72 425.60,324.26 426.32,323.79 427.03,323.33 427.75,322.87 428.47,322.40 429.18,321.94 429.90,321.47 430.62,321.00 431.33,320.54 432.05,320.07 432.77,319.60 433.48,319.14 434.20,318.67 434.91,318.20 435.63,317.73 436.34,317.26 437.05,316.79 437.77,316.32 438.48,315.85 439.19,315.38 439.91,314.91 440.62,314.44 441.33,313.96 442.04,313.49 442.76,313.02 443.47,312.54 444.18,312.07 444.89,311.60 445.60,311.12 446.31,310.65 447.02,310.17 447.73,309.70 448.44,309.22 449.15,308.74 449.86,308.27 450.57,307.79 451.28,307.31 451.99,306.83 452.70,306.36 453.40,305.88 454.11,305.40 454.82,304.92 455.53,304.44 456.24,303.96 456.94,303.48 457.65,303.00 458.36,302.52 459.06,302.04 459.77,301.56 460.48,301.08 461.18,300.60 461.89,300.12 462.60,299.63 463.30,299.15 464.01,298.67 464.71,298.19 465.42,297.71 466.12,297.22 466.83,296.74 467.53,296.26 468.24,295.77 468.94,295.29 469.65,294.80 470.35,294.32 471.06,293.84 471.76,293.35 472.47,292.87 473.17,292.38 473.87,291.90 474.58,291.41 475.28,290.93 475.98,290.44 476.69,289.96 477.39,289.47 478.09,288.98 478.80,288.50 479.50,288.01 480.20,287.53 480.91,287.04 481.61,286.55 482.31,286.07 483.01,285.58 483.72,285.09 484.42,284.61 485.12,284.12 485.82,283.63 486.53,283.15 487.23,282.66 487.93,282.17 488.63,281.68 489.34,281.20 490.04,280.71 490.74,280.22 491.44,279.73 492.14,279.25 492.85,278.76 493.55,278.27 494.25,277.79 494.95,277.30 495.65,276.81 496.36,276.32 497.06,275.84 497.76,275.35 498.46,274.86 499.16,274.37 499.87,273.89 500.57,273.40 501.27,272.91 501.97,272.43 502.68,271.94 503.38,271.46 504.08,270.97 504.79,270.48 505.49,270.00 506.19,269.52 506.90,269.03 507.60,268.55 508.31,268.06 509.01,267.58 509.71,267.10 510.42,266.62 511.13,266.14 511.83,265.66 512.54,265.18 513.25,264.70 513.95,264.22 514.66,263.74 515.37,263.26 516.08,262.79 516.79,262.31 517.49,261.84 518.20,261.36 518.92,260.89 519.63,260.42 520.34,259.95 521.05,259.47 521.76,259.00 522.48,258.54 523.19,258.07 523.90,257.60 524.62,257.14 525.33,256.67 526.05,256.21 526.77,255.75 527.49,255.28 528.20,254.82 528.92,254.37 529.64,253.91 530.36,253.45 531.09,253.00 531.81,252.54 532.53,252.09 533.25,251.64 533.98,251.19 534.71,250.74 535.43,250.29 536.16,249.85 536.89,249.40 537.62,248.96 538.35,248.52 539.08,248.08 539.81,247.64 540.54,247.21 541.28,246.77 542.01,246.34 542.75,245.91 543.48,245.48 544.22,245.05 544.96,244.62 545.70,244.20 546.44,243.78 547.19,243.36 547.93,242.94 548.68,242.52 549.42,242.10 550.17,241.69 550.92,241.28 551.67,240.87 552.42,240.46 553.17,240.06 553.92,239.66 554.68,239.25 555.43,238.86 556.19,238.46" fill="none" stroke="#000" stroke-width="1.9"/>
<rect x="334.6" y="205.2" width="235.20" height="168.40" fill="none" stroke="#5e5e5e" stroke-width="1"/>
<text x="334.60" y="386.40" font-size="8.8" text-anchor="middle" fill="#262626">0</text>
<line x1="393.40" y1="373.6" x2="393.40" y2="371.3" stroke="#5e5e5e"/>
<line x1="393.40" y1="205.2" x2="393.40" y2="207.5" stroke="#5e5e5e"/>
<text x="393.40" y="386.40" font-size="8.8" text-anchor="middle" fill="#262626">0.2</text>
<line x1="452.20" y1="373.6" x2="452.20" y2="371.3" stroke="#5e5e5e"/>
<line x1="452.20" y1="205.2" x2="452.20" y2="207.5" stroke="#5e5e5e"/>
<text x="452.20" y="386.40" font-size="8.8" text-anchor="middle" fill="#262626">0.4</text>
<line x1="511.00" y1="373.6" x2="511.00" y2="371.3" stroke="#5e5e5e"/>
<line x1="511.00" y1="205.2" x2="511.00" y2="207.5" stroke="#5e5e5e"/>
<text x="511.00" y="386.40" font-size="8.8" text-anchor="middle" fill="#262626">0.6</text>
<text x="569.80" y="386.40" font-size="8.8" text-anchor="middle" fill="#262626">0.8</text>
<text transform="translate(330.40,377.32) scale(1.0,1)" font-size="8.8" text-anchor="end" fill="#262626">0</text>
<line x1="334.6" y1="331.50" x2="336.90000000000003" y2="331.50" stroke="#5e5e5e"/>
<line x1="569.8" y1="331.50" x2="567.5" y2="331.50" stroke="#5e5e5e"/>
<text transform="translate(330.40,335.22) scale(1.0,1)" font-size="8.8" text-anchor="end" fill="#262626">500</text>
<line x1="334.6" y1="289.40" x2="336.90000000000003" y2="289.40" stroke="#5e5e5e"/>
<line x1="569.8" y1="289.40" x2="567.5" y2="289.40" stroke="#5e5e5e"/>
<text transform="translate(330.40,293.12) scale(1.0,1)" font-size="8.8" text-anchor="end" fill="#262626">1000</text>
<line x1="334.6" y1="247.30" x2="336.90000000000003" y2="247.30" stroke="#5e5e5e"/>
<line x1="569.8" y1="247.30" x2="567.5" y2="247.30" stroke="#5e5e5e"/>
<text transform="translate(330.40,251.02) scale(1.0,1)" font-size="8.8" text-anchor="end" fill="#262626">1500</text>
<text transform="translate(330.40,208.92) scale(1.0,1)" font-size="8.8" text-anchor="end" fill="#262626">2000</text>
<text x="451.4" y="397" font-size="10.1" font-weight="bold" text-anchor="middle" fill="#262626">Displacement (mm)</text>
<text transform="translate(306.1,289.6) rotate(-90)" font-size="9.5" font-weight="bold" text-anchor="middle" fill="#262626">Force (N)</text>
<text x="544.7" y="221.5" font-family='"Liberation Serif", serif' font-size="14.5" font-weight="bold" font-style="italic" text-anchor="middle" fill="#000">D</text>
<rect x="346.6" y="222.6" width="153.8" height="25.7" fill="#fff" stroke="#5e5e5e" stroke-width="1"/>
<line x1="349" y1="229.6" x2="371.7" y2="229.6" stroke="#0072BD" stroke-width="2.8" stroke-dasharray="2.7 2.6"/>
<line x1="349" y1="241.5" x2="371.7" y2="241.5" stroke="#000" stroke-width="1.9"/>
<text x="378.3" y="233.2" font-size="9" font-weight="bold" fill="#000">3D-printed TPMS Scaffold B</text>
<text x="378.3" y="245.2" font-size="9" font-weight="bold" fill="#000">Composite Scaffold B</text>
</svg>
</body></html>
